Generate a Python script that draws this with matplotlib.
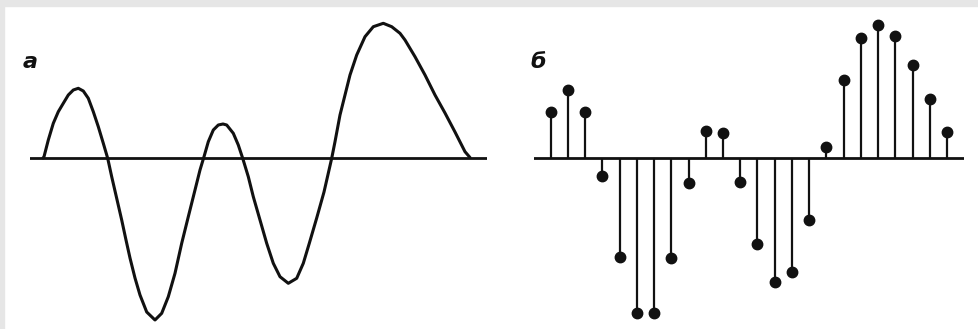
import numpy as np
import matplotlib
matplotlib.use("Agg")
import matplotlib.pyplot as plt
from matplotlib.patches import Rectangle

# panel a: continuous signal
t_a = [0, 1, 5.3, 10.3, 15.3, 20.3, 25.3, 30.3, 35.3, 40.3, 45.3, 50.3, 55.3, 60.3,
       64.7, 68.7, 73.7, 78.7, 83, 87, 92, 97, 103.7, 112, 118.7, 125.3, 132, 138.7,
       145.3, 152, 157, 161, 165.3, 170.3, 175.3, 180, 183.7, 190.3, 195.3, 199.7,
       205.3, 210.3, 217, 223.7, 230.3, 237, 245.3, 253.7, 260.3, 266.3, 273.7, 281,
       288.7, 292, 297, 302, 307, 313.7, 322, 330.3, 340.3, 348.7, 357, 362, 372, 382,
       392, 402, 412, 422, 427]
s_a = [0, 1.3, 18, 34.7, 46.3, 54.7, 63, 68, 69.7, 67, 59.7, 46.3, 31.3, 14.7,
       -0.3, -18.7, -40.3, -62, -82, -100, -120, -137, -154, -162, -155.3, -138.7,
       -115.3, -85.3, -58.7, -32, -12, 1.3, 16.3, 28, 33, 34, 33, 24.7, 13, -0.3,
       -18.7, -38.7, -62, -85.3, -105.3, -118.7, -125.3, -120.3, -105.3, -85.3, -60,
       -34, -0.3, 16.3, 43, 63, 83, 103, 121.3, 131.3, 134.7, 131.3, 124.7, 118, 101.3,
       83, 63, 45, 26, 6.3, 0.5]

# panel b: sampled signal
n_b = np.arange(24)
s_b = [46, 67.7, 46, -18, -99, -154.7, -154.7, -100, -24.7, 26.7, 25, -24,
       -86.3, -124, -114, -61.7, 11, 78.3, 120.3, 133.3, 121.7, 92.7, 58.7, 26]

W, H = 979, 329
fig = plt.figure(figsize=(W / 100, H / 100), dpi=100)
fig.patch.set_facecolor("white")

# grey frame strips top and left
fig.patches.append(Rectangle((0, 1 - 6 / H), 1, 6 / H, transform=fig.transFigure,
                             color="#e6e6e6", zorder=0))
fig.patches.append(Rectangle((0, 0), 4 / W, 1, transform=fig.transFigure,
                             color="#e6e6e6", zorder=0))

ink = "#111111"

# left panel
ax1 = fig.add_axes([30 / W, 0, (487 - 30) / W, 1 - 6 / H])
ax1.set_xlim(30 - 43, 487 - 43)
ax1.set_ylim(158 - 329, 158 - 6)
ax1.axhline(0, color=ink, lw=2)
ax1.plot(t_a, s_a, color=ink, lw=2.2, solid_capstyle="round", solid_joinstyle="round")
ax1.axis("off")

# right panel
x0, dx = 550.7, 17.23
ax2 = fig.add_axes([534 / W, 0, (964 - 534) / W, 1 - 6 / H])
ax2.set_xlim((534 - x0) / dx, (964 - x0) / dx)
ax2.set_ylim(158 - 329, 158 - 6)
ax2.axhline(0, color=ink, lw=2)
ml, sl, bl = ax2.stem(n_b, s_b, basefmt=" ")
plt.setp(sl, color=ink, lw=1.6)
plt.setp(ml, color=ink, markersize=7.5)
ax2.axis("off")

fig.text(23 / W, 1 - 68 / H, "а", fontsize=16, fontweight="bold", style="italic",
         color=ink, ha="left", va="baseline")
fig.text(530 / W, 1 - 68 / H, "б", fontsize=16, fontweight="bold", style="italic",
         color=ink, ha="left", va="baseline")

fig.savefig("out.png", dpi=100, facecolor="white")
